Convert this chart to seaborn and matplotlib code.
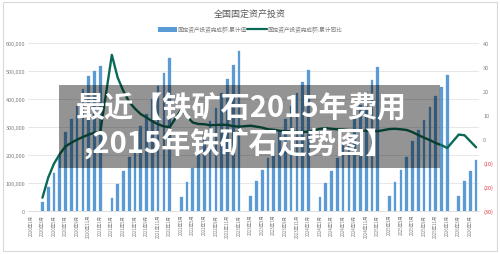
import numpy as np
import pandas as pd
import seaborn as sns
import matplotlib.pyplot as plt
from matplotlib.patches import Patch, Rectangle
from matplotlib.lines import Line2D

# category axis: monthly, 2020-01 .. 2026-06
years = [2020, 2021, 2022, 2023, 2024, 2025, 2026]
month_nums = [1, 2, 3, 4, 5, 6, 7, 8, 9, 10, 11, 12]
n_months = 78

# 固定资产投资完成额:累计值 (Jan-Feb .. Dec of each year)
invest_2020 = [33323, 84145, 136824, 199194, 281603, 329214, 374370, 436530, 479922, 499415, 518907]
invest_2021 = [45236, 95994, 143804, 193917, 255900, 302823, 346913, 397827, 445055, 494082, 544547]
invest_2022 = [50763, 104872, 153544, 205964, 271430, 319812, 367106, 421412, 471459, 520043, 572138]
invest_2023 = [53577, 107282, 147482, 188815, 243113, 285898, 327042, 375035, 419409, 460814, 503036]
invest_2024 = [50847, 100042, 143401, 188006, 245391, 287611, 329385, 378978, 423222, 465839, 514374]
invest_2025 = [52619, 103174, 147024, 191947, 248654, 288229, 326111, 371535, 408914, 444035, 485186]
invest_2026 = [54000, 105000, 142000, 180000]

# 固定资产投资完成额:累计同比 (%)
yoy_2020 = [-24.5, -16.1, -10.3, -6.3, -3.1, -1.6, -0.3, 0.8, 1.8, 2.6, 2.9]
yoy_2021 = [35.0, 25.6, 19.9, 15.4, 12.6, 10.3, 8.9, 7.3, 6.1, 5.2, 4.9]
yoy_2022 = [12.2, 9.3, 6.8, 6.2, 6.1, 5.7, 5.8, 5.9, 5.8, 5.3, 5.1]
yoy_2023 = [5.5, 5.1, 4.7, 4.0, 3.8, 3.4, 3.2, 3.1, 2.9, 2.9, 3.0]
yoy_2024 = [4.2, 4.5, 4.2, 4.0, 3.9, 3.6, 3.4, 3.4, 3.4, 3.3, 3.2]
yoy_2025 = [4.1, 4.2, 4.0, 3.7, 2.8, 1.6, 0.5, -0.5, -1.7, -2.6, -3.8]
yoy_2026 = [1.8, 1.5, -1.0, -3.5]

invest_by_year = [invest_2020, invest_2021, invest_2022, invest_2023, invest_2024, invest_2025, invest_2026]
yoy_by_year = [yoy_2020, yoy_2021, yoy_2022, yoy_2023, yoy_2024, yoy_2025, yoy_2026]

labels = [f"{y}年{m}月" for y in years for m in month_nums][:n_months]
cum = np.full(n_months, np.nan)
yoy = np.full(n_months, np.nan)
for i, (inv, g) in enumerate(zip(invest_by_year, yoy_by_year)):
    start = i * 12 + 2   # values are stamped at the month after the data month
    cum[start:start + len(inv)] = inv
    yoy[start:start + len(g)] = g

df = pd.DataFrame({"month": labels, "cum": cum, "yoy": yoy, "pos": np.arange(n_months)})

sns.set_style("white")
plt.rcParams['font.family'] = ['Noto Sans CJK SC', 'DejaVu Sans']

bar_color = "#5B9BD5"
line_color = "#0B6A55"
txt_color = "#808080"

fig = plt.figure(figsize=(5, 2.55), dpi=100)
ax = fig.add_axes([0.056, 0.169, 0.902, 0.659])
ax2 = ax.twinx()

sns.barplot(data=df, x="month", y="cum", order=labels, color=bar_color,
            saturation=1, width=0.46, errorbar=None, ax=ax, zorder=2,
            edgecolor=bar_color, linewidth=0.2)
sns.lineplot(data=df.dropna(subset=["yoy"]), x="pos", y="yoy", ax=ax2,
             color=line_color, linewidth=1.7)

ax.set_xlim(-0.5, n_months - 0.5)
ax.set_ylim(0, 600000)
ax2.set_ylim(-30, 40)

ax.set_yticks(np.arange(0, 600001, 100000))
ax.set_yticklabels([f"{v:,}" for v in range(0, 600001, 100000)])
ax.set_xticks(np.arange(0, n_months, 2))
ax.set_xticklabels(labels[::2], rotation=90)
ax.tick_params(axis="x", labelsize=3.2, colors=txt_color, length=0, pad=2)
ax.tick_params(axis="y", labelsize=4, colors=txt_color, length=0, pad=2)

r_ticks = list(range(-30, 41, 10))
ax2.set_yticks(r_ticks)
ax2.set_yticklabels([f"({-t})" if t < 0 else str(t) for t in r_ticks])
ax2.tick_params(axis="y", labelsize=4, length=0, pad=3, colors=txt_color)
for t, lab in zip(r_ticks, ax2.get_yticklabels()):
    if t < 0:
        lab.set_color("#E03030")

ax.grid(axis="y", color="#E3E3E3", linewidth=0.6)
ax.set_axisbelow(True)
for a in (ax, ax2):
    a.set_xlabel("")
    a.set_ylabel("")
    for s in a.spines.values():
        s.set_visible(False)
ax.spines["bottom"].set_visible(True)
ax.spines["bottom"].set_color("#D9D9D9")
ax.spines["bottom"].set_linewidth(0.6)

fig.text(0.5, 0.945, "全国固定资产投资", ha="center", va="center",
         fontsize=6.5, color="#595959")
handles = [Patch(facecolor=bar_color, edgecolor="none"),
           Line2D([0], [0], color=line_color, linewidth=1.6)]
fig.legend(handles, ["固定资产投资完成额:累计值", "固定资产投资完成额:累计同比"],
           loc="center", bbox_to_anchor=(0.5, 0.882), ncol=2, frameon=False,
           fontsize=4.1, labelcolor=txt_color, handlelength=3.4, handleheight=0.9,
           handletextpad=0.1, columnspacing=0.1)

# outer frame
fig.patches.append(Rectangle((0.006, 0.012), 0.988, 0.976, transform=fig.transFigure,
                             fill=False, edgecolor="#D9D9D9", linewidth=0.8))

# grey banner overlay
fig.patches.append(Rectangle((59 / 500, 1 - 169 / 255), 381 / 500, 83 / 255,
                             transform=fig.transFigure, facecolor="black",
                             alpha=0.42, edgecolor="none", zorder=10))
fig.text(0.482, 1 - 107 / 255, "最近【铁矿石2015年费用", ha="center", va="center",
         fontsize=21, fontweight="heavy", color="white", zorder=11)
fig.text(0.478, 1 - 143 / 255, ",2015年铁矿石走势图】", ha="center", va="center",
         fontsize=21, fontweight="heavy", color="white", zorder=11)

fig.savefig("out.png", dpi=100)
